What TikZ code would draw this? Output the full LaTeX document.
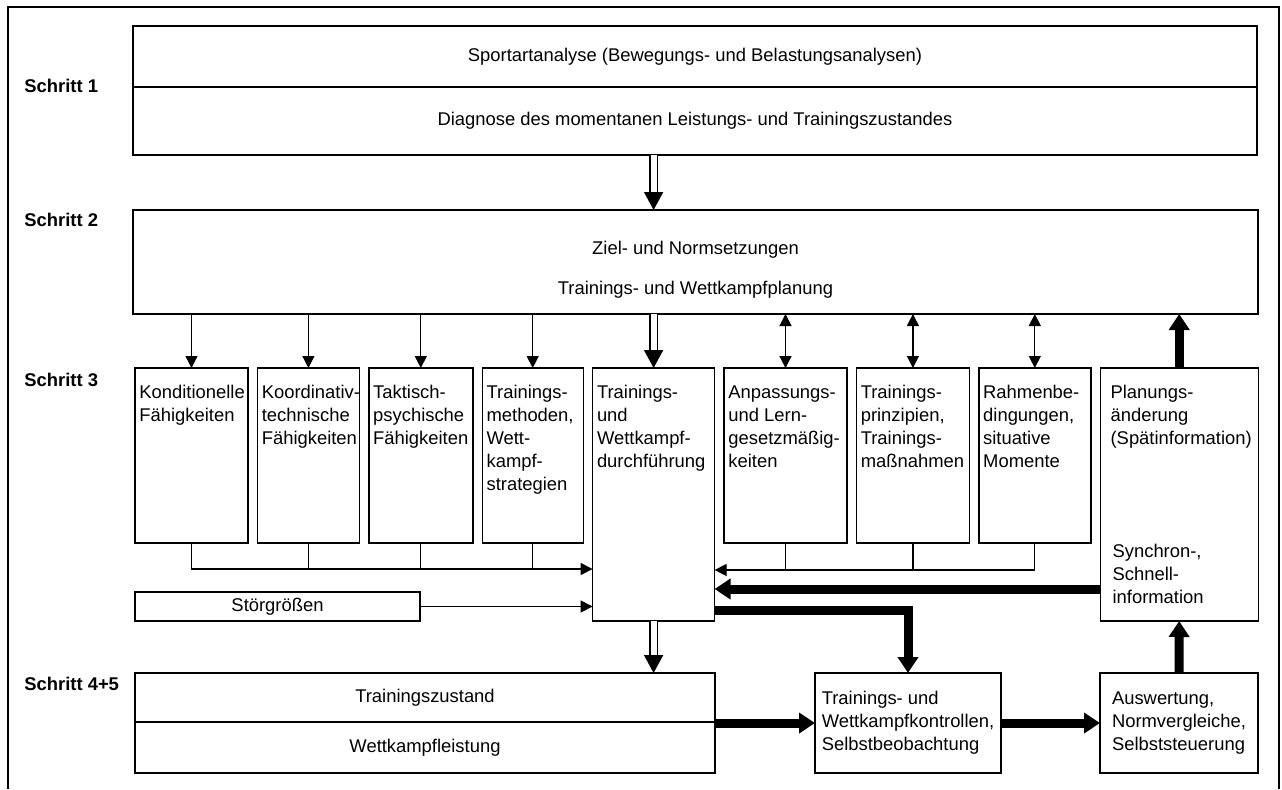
\documentclass[tikz,border=0pt]{standalone}
\usepackage{fontspec}
\setmainfont{Liberation Sans}
\usetikzlibrary{arrows.meta, positioning}

\begin{document}
\begin{tikzpicture}[
    x=0.5pt, y=-0.5pt,
    font=\fontsize{9.2}{11.5}\selectfont,
    box/.style={rectangle, draw=black, line width=0.7pt, inner sep=0pt, outer sep=0pt, align=center},
    col/.style={box, anchor=north west, minimum height=87.5pt},
    txt/.style={anchor=north west, align=left, inner sep=2pt, yshift=-6.5pt},
    txtlow/.style={anchor=south west, align=left, inner sep=2pt, yshift=6.5pt},
    schritt/.style={anchor=west, inner sep=0pt, font=\fontsize{9.2}{11.5}\selectfont\bfseries},
    line/.style={line width=0.6pt},
    arrow/.style={-{Triangle[width=6pt,length=6pt]}, line width=0.6pt},
    both/.style={{Triangle[width=6pt,length=6pt]}-{Triangle[width=6pt,length=6pt]}, line width=0.6pt},
    hollow/.style={double, double distance=3pt, line width=0.9pt, -{Triangle[width=9.5pt,length=9pt]}},
    heavy/.style={line width=4.5pt, -{Triangle[width=10pt,length=8pt]}}
]
\useasboundingbox (0,0) rectangle (1282,789);
\draw[line width=0.8pt] (8,789) -- (8,7) -- (1279,7) -- (1279,789);

% step labels
\node[schritt] (s1) at (24,86) {Schritt 1};
\node[schritt] (s2) at (24,220) {Schritt 2};
\node[schritt] (s3) at (24,380) {Schritt 3};
\node[schritt] (s45) at (24,684) {Schritt 4+5};

% step 1 and 2
\node[box, anchor=north west, minimum width=562pt, minimum height=30.5pt] (sport) at (133,26) {Sportartanalyse (Bewegungs- und Belastungsanalysen)};
\node[box, minimum width=562pt, minimum height=34pt, below=0pt of sport] (diag) {Diagnose des momentanen Leistungs- und Trainingszustandes};
\node[box, anchor=north west, minimum width=562.5pt, minimum height=52pt,
      label={[align=center, yshift=-4pt]center:{Ziel- und Normsetzungen\\[8.5pt]Trainings- und Wettkampfplanung}}] (ziel) at (133,210) {};

% step 3 row
\node[col, minimum width=56.5pt, label={[txt]north west:Konditionelle\\Fähigkeiten}] (kond) at (135,368) {};
\node[col, minimum width=51pt, right=4.7pt of kond.north east, anchor=north west,
      label={[txt]north west:Koordinativ-\\technische\\Fähigkeiten}] (koord) {};
\node[col, minimum width=52pt, right=4.7pt of koord.north east, anchor=north west,
      label={[txt]north west:Taktisch-\\psychische\\Fähigkeiten}] (takt) {};
\node[col, minimum width=50.5pt, right=4.7pt of takt.north east, anchor=north west,
      label={[txt]north west:Trainings-\\methoden,\\Wett-\\kampf-\\strategien}] (meth) {};
\node[col, minimum width=61pt, minimum height=126.5pt, right=4.7pt of meth.north east, anchor=north west,
      label={[txt]north west:Trainings-\\und\\Wettkampf-\\durchführung}] (durch) {};
\node[col, minimum width=61.5pt, right=4.7pt of durch.north east, anchor=north west,
      label={[txt]north west:Anpassungs-\\und Lern-\\gesetzmäßig-\\keiten}] (anp) {};
\node[col, minimum width=56.5pt, right=4.7pt of anp.north east, anchor=north west,
      label={[txt]north west:Trainings-\\prinzipien,\\Trainings-\\maßnahmen}] (prinz) {};
\node[col, minimum width=56pt, right=4.7pt of prinz.north east, anchor=north west,
      label={[txt]north west:Rahmenbe-\\dingungen,\\situative\\Momente}] (rahm) {};
\node[col, minimum width=79pt, minimum height=126.5pt, right=4.7pt of rahm.north east, anchor=north west,
      label={[txt, xshift=3pt]north west:Planungs-\\änderung\\(Spätinformation)},
      label={[txtlow, xshift=4pt]south west:Synchron-,\\Schnell-\\information}] (plan) {};

\node[box, anchor=north west, minimum width=142.5pt, minimum height=14.5pt] (stoer) at (135,592) {Störgrößen};

% step 4+5
\node[box, anchor=north west, minimum width=290pt, minimum height=24.5pt] (zust) at (135,673) {Trainingszustand};
\node[box, minimum width=290pt, minimum height=25.5pt, below=0pt of zust] (wett) {Wettkampfleistung};
\node[box, align=left, anchor=north west, minimum width=93pt, minimum height=50pt] (kontr) at (815,673) {Trainings- und\\Wettkampfkontrollen,\\Selbstbeobachtung};
\node[box, align=left, anchor=north west, minimum width=79pt, minimum height=50pt] (ausw) at (1100,673) {Auswertung,\\Normvergleiche,\\Selbststeuerung};

% main flow
\draw[hollow] (diag.south -| durch.north) -- (ziel.north -| durch.north);
\draw[hollow] (ziel.south -| durch.north) -- (durch.north);
\draw[hollow] (durch.south) -- (durch.south |- zust.north);
\foreach \n in {kond, koord, takt, meth}
    \draw[arrow] (ziel.south -| \n.north) -- (\n.north);
\foreach \n in {anp, prinz, rahm}
    \draw[both] (ziel.south -| \n.north) -- (\n.north);
\draw[heavy] (plan.north) -- (plan.north |- ziel.south);

% collectors into the execution box
\coordinate (inL) at (durch.west |- 0,569);
\coordinate (inR) at (durch.east |- 0,570);
\draw[arrow] (kond.south) |- (inL);
\foreach \n in {koord, takt, meth}
    \draw[line] (\n.south) -- (\n.south |- inL);
\draw[arrow] (rahm.south) |- (inR);
\foreach \n in {anp, prinz}
    \draw[line] (\n.south) -- (\n.south |- inR);
\draw[arrow] (stoer.east) -- (stoer.east -| durch.west);

% feedback loop
\draw[heavy] (plan.west |- 0,589) -- (durch.east |- 0,589);
\draw[heavy] (durch.east |- 0,610) -| (kontr.north);
\draw[heavy] (zust.south east |- kontr.west) -- (kontr.west);
\draw[heavy] (kontr.east) -- (ausw.west);
\draw[heavy] (ausw.north) -- (plan.south);
\end{tikzpicture}
\end{document}
